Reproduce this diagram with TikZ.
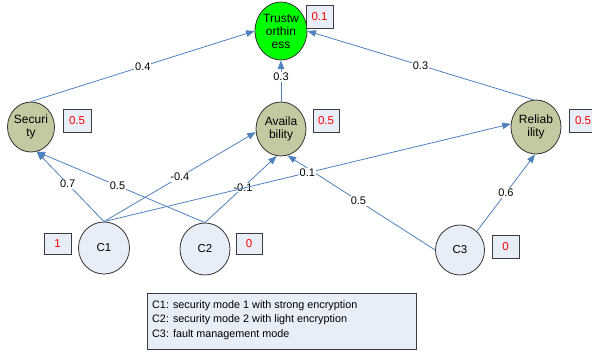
\documentclass[tikz,border=0pt]{standalone}
\usepackage{fontspec}
\setmainfont{Liberation Sans}
\usetikzlibrary{shapes.geometric,arrows.meta}
\definecolor{edgeblue}{RGB}{79,129,189}
\definecolor{midfill}{RGB}{196,201,161}
\definecolor{cfill}{RGB}{232,238,248}
\definecolor{boxline}{RGB}{60,60,60}
\definecolor{trustgreen}{RGB}{0,255,0}
\begin{document}
\begin{tikzpicture}[x=1pt,y=-1pt,
  ell/.style={ellipse,draw=black!80,line width=0.8pt,inner sep=0pt,font=\fontsize{11.5}{13}\selectfont},
  mid/.style={ell,fill=midfill},
  cnode/.style={ell,fill=cfill},
  valbox/.style={rectangle,draw=boxline,line width=0.8pt,fill=cfill,text=red,inner sep=0pt,font=\fontsize{11.5}{13}\selectfont},
  conn/.style={draw=edgeblue,line width=0.8pt,-{Triangle[length=8.5pt,width=6.5pt]}},
  lbl/.style={fill=white,inner sep=0.8pt,font=\fontsize{11}{12}\selectfont},
  ntext/.style={align=center,inner sep=0pt,font=\fontsize{12}{13}\selectfont}
]
\clip (0,0) rectangle (592,351);
% main nodes
\node[ell,fill=trustgreen,minimum width=52pt,minimum height=58pt,
      label={[ntext]center:{Trustw\\orthin\\ess}}] (trust) at (281,31) {};
\node[mid,minimum width=47pt,minimum height=50pt,
      label={[ntext]center:{Securi\\ty}}] (sec) at (31,127) {};
\node[mid,minimum width=50pt,minimum height=54pt,
      label={[ntext]center:{Availa\\bility}}] (avail) at (281,129) {};
\node[mid,minimum width=50pt,minimum height=54pt,
      label={[ntext]center:{Reliab\\ility}}] (rel) at (536,127) {};
\node[cnode,minimum width=51pt,minimum height=52pt] (c1) at (104,248) {C1};
\node[cnode,minimum width=50pt,minimum height=52pt] (c2) at (205,249) {C2};
\node[cnode,minimum width=49pt,minimum height=50pt] (c3) at (460,250) {C3};
% value boxes
\node[valbox,minimum width=27pt,minimum height=23pt] (vtrust) at (319.5,16.5) {0.1};
\node[valbox,minimum width=28pt,minimum height=23pt] (vsec) at (77,120.5) {0.5};
\node[valbox,minimum width=26pt,minimum height=23pt] (vavail) at (326,120.5) {0.5};
\node[valbox,minimum width=28pt,minimum height=23pt] (vrel) at (583,120.5) {0.5};
\node[valbox,minimum width=27pt,minimum height=21pt] (vc1) at (57.5,243.5) {1};
\node[valbox,minimum width=26pt,minimum height=21pt] (vc2) at (249,243.5) {0};
\node[valbox,minimum width=27pt,minimum height=23pt] (vc3) at (505.5,246.5) {0};
% connectors
\draw[conn] (c1.north) -- node[lbl,pos=0.54]{0.7} (sec.-77);
\draw[conn] (c2.north) -- node[lbl,pos=0.52]{0.5} (sec.-77);
\draw[conn] (c1.north) -- node[lbl,pos=0.5]{-0.4} (avail.187);
\draw[conn] (c2.north) -- node[lbl,pos=0.53]{-0.1} (avail.-99);
\draw[conn] (c3.west) -- node[lbl,pos=0.52]{0.5} (avail.-76);
\draw[conn] (c1.north) -- node[lbl,pos=0.5]{0.1} (rel.173);
\draw[conn] (c3.48) -- node[lbl,pos=0.5]{0.6} (rel.-92);
\draw[conn] (sec.north) -- node[lbl,pos=0.5]{0.4} (trust.west);
\draw[conn] (avail.north) -- node[lbl,pos=0.6]{0.3} (trust.south);
\draw[conn] (rel.95) -- node[lbl,pos=0.5]{0.3} (trust.east);
% legend
\node[rectangle,draw=boxline,fill=cfill,line width=0.8pt,minimum width=269pt,
      minimum height=56pt,inner sep=0pt] (legend) at (281.5,321) {};
\node[anchor=west,align=left,inner sep=0pt,font=\fontsize{10.8}{14.5}\selectfont] (legtext) at (152,320)
  {C1: security mode 1 with strong encryption\\C2: security mode 2 with light encryption\\C3: fault management mode};
\end{tikzpicture}
\end{document}
